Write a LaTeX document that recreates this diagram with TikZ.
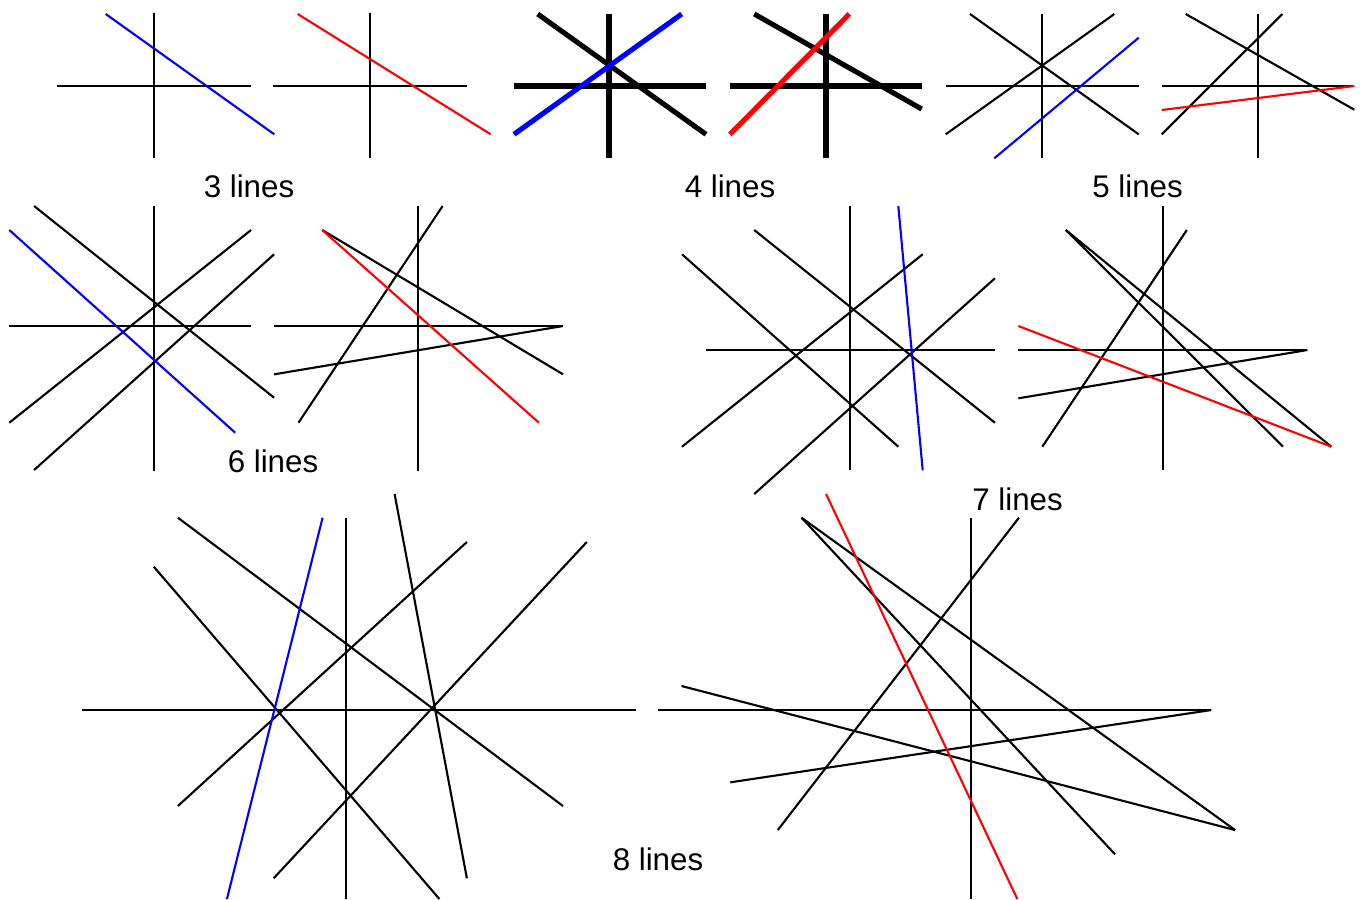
\documentclass[tikz,border=0pt]{standalone}
\usepackage{fontspec}
\setmainfont{Liberation Sans}
\begin{document}
\begin{tikzpicture}[x=0.01cm,y=-0.01cm,
  thin line/.style={line width=0.6pt},
  bold line/.style={line width=1.45pt},
  lbl/.style={anchor=base,inner sep=0pt,font=\fontsize{8.9}{10}\selectfont}]
\useasboundingbox (0,0) rectangle (1364,899);
\begin{scope}[thin line]
% ---- 3 lines
\draw (153.7,13.3) -- (153.7,158.3);
\draw (57.3,86.3) -- (250.7,86.3);
\draw[blue] (105.7,14) -- (274.3,134.3);
\draw (370,13.3) -- (370,158.3);
\draw (273.3,86.3) -- (466.7,86.3);
\draw[red] (297.7,14) -- (490.7,134.3);
% ---- 5 lines
\draw (1042.3,14) -- (1042.3,158.3);
\draw (945.7,86.3) -- (1138.7,86.3);
\draw (970,14) -- (1138.7,134.3);
\draw (945.7,134.3) -- (1114.3,14);
\draw[blue] (994.3,158.3) -- (1138.7,37.7);
\draw (1258.3,14) -- (1258.3,158.3);
\draw (1161.7,86.3) -- (1354.3,86.3);
\draw (1185.7,14) -- (1354.3,109.7);
\draw (1161.7,134.3) -- (1282.3,14);
\draw[red] (1161.7,110) -- (1354.3,86);
% ---- 6 lines
\draw (154,206) -- (154,471);
\draw (9.3,326) -- (251.1,326);
\draw (34.1,206) -- (274.1,397.7);
\draw (9.3,422.7) -- (251.1,230);
\draw (34.1,470) -- (274.1,254.3);
\draw[blue] (9.3,230) -- (235.2,432.7);
\draw (418,206) -- (418,471);
\draw (274.1,326) -- (563,326);
\draw (322.2,230) -- (563,374.3);
\draw (298.5,422.7) -- (442.6,206);
\draw (274.1,374.3) -- (563,326);
\draw[red] (322.2,230) -- (538.9,422.7);
% ---- 7 lines
\draw (850.4,206) -- (850.4,470.3);
\draw (705.5,350) -- (994.9,350);
\draw (754.2,230) -- (994.9,422.7);
\draw (682,254.3) -- (898.3,446.7);
\draw (682,446.7) -- (922.7,254.3);
\draw (754.2,494) -- (994.9,278.3);
\draw[blue] (898.3,206) -- (922.7,470.3);
\draw (1162.9,206) -- (1162.9,470.3);
\draw (1018.4,350) -- (1307.4,350);
\draw (1065.8,230) -- (1331.3,446.7);
\draw (1065.8,230) -- (1283,446.7);
\draw (1042.3,446.7) -- (1186.8,230);
\draw (1018.4,398.3) -- (1307.4,350);
\draw[red] (1018.4,326) -- (1331.3,446.7);
% ---- 8 lines
\draw (346.4,517.7) -- (346.4,899);
\draw (81.5,710) -- (635.7,710);
\draw (177.9,517.7) -- (563,806);
\draw (153.8,566.7) -- (439.4,899);
\draw (177.9,806) -- (466.9,542);
\draw (273.6,878.3) -- (586.8,542);
\draw (394.6,494) -- (466.9,878.3);
\draw[blue] (322.6,517.7) -- (226.9,899);
\draw (970.6,517.7) -- (970.6,899);
\draw (657.8,710) -- (1211.3,710);
\draw (801.5,517.7) -- (1235,830);
\draw (801.5,517.7) -- (1115,854.3);
\draw (777.8,830) -- (1018.9,517.7);
\draw (730.3,782.3) -- (1211.3,710);
\draw (681.6,686) -- (1235,830);
\draw[red] (826.1,494) -- (1017.3,899);
\end{scope}
% ---- 4 lines (bold)
\begin{scope}[bold line]
\draw (609,14) -- (609,157.7);
\draw (514,86) -- (706,86);
\draw (537.7,14) -- (706,134.3);
\draw[blue] (514,134.3) -- (681.7,14);
\draw (826,14) -- (826,157.7);
\draw (730,86) -- (921.7,86);
\draw (754.3,14) -- (921.7,109);
\draw[red] (730,134.3) -- (849.3,14);
\end{scope}
% ---- labels
\node[lbl] (l3) at (249,197.3) {3 lines};
\node[lbl] (l4) at (730,197.3) {4 lines};
\node[lbl] (l5) at (1137.5,197.3) {5 lines};
\node[lbl] (l6) at (273,472.3) {6 lines};
\node[lbl] (l7) at (1017.5,510.3) {7 lines};
\node[lbl] (l8) at (658,870.3) {8 lines};
\end{tikzpicture}
\end{document}
